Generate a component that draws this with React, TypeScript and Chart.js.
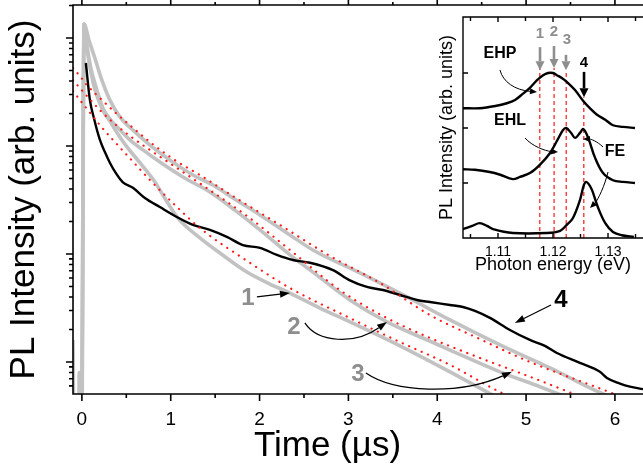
import { useEffect, useRef } from 'react';
import { Chart, registerables } from 'chart.js';

Chart.register(...registerables);

const FONT = '"Liberation Sans", Arial, Helvetica, sans-serif';
const GRAY_LINE = '#c2c2c2';
const GRAY_TEXT = '#8e8e8e';
const RED = '#ff1a1a';

// ---------------- main panel: PL decay (time in µs, intensity log) ----------------
const TIME_MIN = -0.1;
const TIME_MAX = 6.316;
const PL_MIN = 0.505;
const PL_MAX = 2022;
const TIME_TICKS = [0, 1, 2, 3, 4, 5, 6];
const TIME_MINOR = [0.5, 1.5, 2.5, 3.5, 4.5, 5.5];
const PL_MAJOR = [1, 10, 100, 1000];
const PL_MINOR = [0.6, 0.7, 0.8, 0.9, 2, 3, 4, 5, 6, 7, 8, 9, 20, 30, 40, 50, 60, 70, 80, 90, 200, 300, 400, 500, 600, 700, 800, 900, 2000];

// curve 4 (black)
const t4 = [0.045, 0.09, 0.135, 0.203, 0.259, 0.315, 0.383, 0.462, 0.574, 0.709, 0.878, 1.069, 1.25, 1.441, 1.632, 1.812, 2.004, 2.195, 2.375, 2.567, 2.826, 3.017, 3.208, 3.389, 3.58, 3.771, 3.918, 4.143, 4.289, 4.424, 4.593, 4.818, 5.043, 5.212, 5.347, 5.606, 5.831, 5.91, 6.057, 6.169, 6.316];
const pl4 = [587, 267, 182, 114, 88, 70, 56, 46, 41, 33, 27.2, 22, 18.6, 16.7, 14.4, 12.1, 11.4, 9.8, 8.8, 8.3, 7.1, 5.7, 4.95, 4.64, 4.17, 3.75, 3.59, 3.37, 3.23, 2.97, 2.56, 1.98, 1.6, 1.41, 1.21, 0.98, 0.81, 0.71, 0.63, 0.59, 0.56];

// curve 1 (gray, lowest)
const t1 = [-0.1, -0.09, -0.035, -0.03, -0.025, 0.0, 0.025, 0.056, 0.101, 0.158, 0.236, 0.315, 0.405, 0.507, 0.653, 0.822, 0.946, 1.081, 1.328, 1.554, 1.857, 2.116, 2.342, 2.679, 3.017, 3.58, 4.143, 4.593, 4.931];
const pl1 = [1.6, 0.3, 0.3, 0.8, 0.3, 0.3, 1346, 808, 484, 310, 215, 170, 129, 98, 70, 46.4, 31.6, 21.5, 14.1, 10.2, 6.8, 5.27, 4.35, 3.16, 2.35, 1.41, 0.81, 0.51, 0.37];

// curve 2 (gray, middle)
const t2 = [0.0, 0.025, 0.056, 0.101, 0.169, 0.236, 0.326, 0.428, 0.54, 0.687, 0.878, 1.137, 1.441, 1.722, 2.004, 2.342, 2.6, 3.017, 3.434, 3.918, 4.143, 4.706, 5.156, 5.494, 5.831];
const pl2 = [0.3, 1346, 861, 527, 330, 225, 174, 141, 114, 92, 71, 51.6, 37.5, 25.5, 16.7, 9.8, 6.8, 3.75, 2.35, 1.56, 1.29, 0.81, 0.59, 0.46, 0.36];

// curve 3 (gray, top)
const t3 = [0.0, 0.025, 0.079, 0.146, 0.225, 0.315, 0.428, 0.597, 0.766, 0.991, 1.25, 1.475, 1.7, 2.004, 2.342, 2.6, 3.13, 3.659, 4.143, 4.706, 5.268, 5.809, 6.169];
const pl3 = [0.3, 1346, 958, 653, 408, 267, 186, 135, 102, 74, 53.9, 43.5, 33, 23, 15, 10.9, 6.67, 4.0, 2.45, 1.44, 0.88, 0.53, 0.4];

// fits (red dotted)
const tFit1 = [-0.1, -0.023, 0.068, 0.203, 0.371, 0.54, 0.766, 1.081, 1.328, 1.891, 2.342, 3.017, 3.58, 4.143, 4.74, 5.043];
const plFit1 = [323, 267, 215, 156, 109, 77, 48.4, 26.7, 17.4, 8.3, 4.84, 2.55, 1.53, 0.94, 0.51, 0.4];
const tFit2 = [-0.1, -0.023, 0.068, 0.203, 0.371, 0.54, 0.766, 1.103, 1.441, 1.891, 2.342, 2.904, 3.434, 3.918, 4.48, 5.043, 5.527, 5.831];
const plFit2 = [408, 344, 284, 215, 160, 124, 92, 60, 39, 21.5, 10.9, 4.64, 2.55, 1.67, 1.09, 0.73, 0.51, 0.41];
const tFit3 = [-0.1, -0.023, 0.056, 0.203, 0.371, 0.54, 0.766, 1.047, 1.328, 1.7, 2.229, 2.792, 3.355, 3.918, 4.48, 5.043, 5.978, 6.316];
const plFit3 = [527, 445, 367, 278, 206, 156, 109, 74, 53.9, 34.4, 18.6, 9.6, 5.4, 2.72, 1.63, 1.0, 0.51, 0.39];

// labels and arrows of the main panel (time µs, intensity)
const MAIN_LABELS = [
  { text: '1', at: [1.869, 3.91], color: GRAY_TEXT },
  { text: '2', at: [2.387, 2.11], color: GRAY_TEXT },
  { text: '3', at: [3.107, 0.774], color: GRAY_TEXT },
  { text: '4', at: [5.392, 3.75], color: '#000' },
];
const MAIN_ARROWS = [
  [[1.97, 4.0], [2.342, 4.35]],
  [[2.51, 2.3], [2.657, 1.5], [3.073, 1.44], [3.434, 2.35]],
  [[3.197, 0.79], [3.524, 0.516], [4.255, 0.495], [4.841, 0.81]],
  [[5.28, 3.37], [4.874, 2.3]],
];

// ---------------- inset: PL spectra ----------------
const E_MIN = 1.10364;
const E_MAX = 1.13636;
const V_MIN = 0;
const V_MAX = 4.018;
const E_TICKS = [1.11, 1.12, 1.13];
const E_MINOR = [1.105, 1.115, 1.125, 1.135];
const V_TICKS = [1, 2, 3];

const eEHP = [1.1036, 1.1067, 1.1095, 1.1116, 1.1131, 1.1145, 1.1158, 1.1171, 1.1182, 1.1191, 1.12, 1.1207, 1.1216, 1.1225, 1.124, 1.1255, 1.1267, 1.128, 1.1295, 1.1309, 1.1327, 1.1349];
const vEHP = [2.36, 2.36, 2.4, 2.45, 2.51, 2.62, 2.73, 2.87, 2.96, 3.0, 3.0, 2.96, 2.91, 2.84, 2.69, 2.49, 2.36, 2.24, 2.15, 2.05, 2.02, 2.0];
const eEHL = [1.1036, 1.1058, 1.1085, 1.1104, 1.1127, 1.114, 1.1158, 1.1176, 1.1195, 1.1209, 1.1218, 1.1224, 1.1233, 1.124, 1.1249, 1.1255, 1.1264, 1.1276, 1.1291, 1.1309, 1.1327, 1.1349];
const vEHL = [1.25, 1.24, 1.2, 1.15, 1.07, 1.11, 1.18, 1.33, 1.55, 1.8, 1.96, 2.0, 1.91, 1.82, 1.91, 1.98, 1.82, 1.47, 1.18, 1.05, 1.02, 1.0];
const eFE = [1.1036, 1.1053, 1.1067, 1.108, 1.1091, 1.1127, 1.1189, 1.1213, 1.1225, 1.1236, 1.1249, 1.1256, 1.126, 1.1265, 1.1271, 1.1282, 1.1295, 1.1309, 1.1325, 1.1347];
const vFE = [0.16, 0.22, 0.27, 0.22, 0.16, 0.09, 0.09, 0.13, 0.24, 0.36, 0.69, 0.96, 1.02, 0.98, 0.87, 0.55, 0.27, 0.11, 0.05, 0.02];

const MARK_E = [1.1176, 1.1202, 1.1224, 1.1256];
const MARK_TOP = [3.09, 3.09, 3.02, 2.56];

const INSET_LABELS = [
  { text: 'EHP', at: [1.11036, 3.345], color: '#000', size: 16 },
  { text: 'EHL', at: [1.11218, 2.127], color: '#000', size: 16 },
  { text: 'FE', at: [1.13127, 1.564], color: '#000', size: 16 },
  { text: '1', at: [1.11764, 3.709], color: GRAY_TEXT, size: 15 },
  { text: '2', at: [1.12018, 3.745], color: GRAY_TEXT, size: 15 },
  { text: '3', at: [1.12255, 3.6], color: GRAY_TEXT, size: 15 },
  { text: '4', at: [1.12564, 3.18], color: '#000', size: 15 },
];
const INSET_MARK_ARROWS = [
  { pts: [[1.11764, 3.47], [1.11764, 3.05]], color: GRAY_TEXT },
  { pts: [[1.12018, 3.49], [1.12018, 3.09]], color: GRAY_TEXT },
  { pts: [[1.12236, 3.33], [1.12236, 3.05]], color: GRAY_TEXT },
  { pts: [[1.12564, 3.02], [1.12564, 2.56]], color: '#000' },
];
const INSET_CURVED_ARROWS = [
  [[1.11036, 3.055], [1.1109, 2.836], [1.1131, 2.69], [1.11709, 2.655]],
  [[1.11491, 1.818], [1.11618, 1.673], [1.11855, 1.582], [1.12091, 1.564]],
  [[1.12909, 1.655], [1.128, 1.764], [1.12673, 1.8], [1.12545, 1.8]],
  [[1.13, 1.2], [1.12945, 0.964], [1.12818, 0.691], [1.12673, 0.545]],
];

const pts = (xs: number[], ys: number[]) => xs.map((x, i) => ({ x, y: ys[i] }));

function drawArrow(ctx: CanvasRenderingContext2D, p: number[][], color: string, width: number, head: number, headW: number) {
  const n = p.length;
  const end = p[n - 1];
  const prev = p[n - 2];
  let dx = end[0] - prev[0];
  let dy = end[1] - prev[1];
  const d = Math.hypot(dx, dy) || 1;
  dx /= d; dy /= d;
  const bx = end[0] - dx * head;
  const by = end[1] - dy * head;
  ctx.strokeStyle = color;
  ctx.fillStyle = color;
  ctx.lineWidth = width;
  ctx.beginPath();
  ctx.moveTo(p[0][0], p[0][1]);
  if (n === 2) ctx.lineTo(bx, by);
  else ctx.bezierCurveTo(p[1][0], p[1][1], p[2][0], p[2][1], bx, by);
  ctx.stroke();
  ctx.beginPath();
  ctx.moveTo(end[0], end[1]);
  ctx.lineTo(bx - dy * headW, by + dx * headW);
  ctx.lineTo(bx + dy * headW, by - dx * headW);
  ctx.closePath();
  ctx.fill();
}

const annotPlugin = {
  id: 'annot',
  afterDatasetsDraw(chart: any, _a: any, o: any) {
    const ctx: CanvasRenderingContext2D = chart.ctx;
    const xs = chart.scales.x;
    const ys = chart.scales.y;
    const P = (q: number[]) => [xs.getPixelForValue(q[0]), ys.getPixelForValue(q[1])];
    ctx.save();
    for (const a of o.arrows || []) {
      drawArrow(ctx, a.pts.map(P), a.color, a.width, a.head, a.headW);
    }
    ctx.textAlign = 'center';
    ctx.textBaseline = 'middle';
    for (const l of o.labels || []) {
      const [x, y] = P(l.at);
      ctx.fillStyle = l.color;
      ctx.font = `bold ${l.size}px ${FONT}`;
      ctx.fillText(l.text, x, y);
    }
    ctx.restore();
  },
};

const framePlugin = {
  id: 'frame',
  afterDraw(chart: any, _a: any, o: any) {
    const ctx: CanvasRenderingContext2D = chart.ctx;
    const a = chart.chartArea;
    const xs = chart.scales.x;
    const ys = chart.scales.y;
    const dir = o.inward ? -1 : 1;
    ctx.save();
    ctx.strokeStyle = '#000';
    ctx.lineWidth = o.width;
    ctx.beginPath();
    const R = a.right + 5;
    ctx.moveTo(a.left - o.width / 2, a.top); ctx.lineTo(R, a.top);
    ctx.moveTo(a.left, a.top); ctx.lineTo(a.left, a.bottom);
    ctx.moveTo(a.left - o.width / 2, a.bottom); ctx.lineTo(R, a.bottom);
    const groups: [number[], number, number][] = [
      [o.xMajor, o.xLen[0], o.topLen[0]],
      [o.xMinor, o.xLen[1], o.topLen[1]],
    ];
    for (const [vals, len, tlen] of groups) {
      for (const v of vals) {
        const px = xs.getPixelForValue(v);
        ctx.moveTo(px, a.bottom); ctx.lineTo(px, a.bottom + dir * len);
        ctx.moveTo(px, a.top); ctx.lineTo(px, a.top - dir * tlen);
      }
    }
    const yGroups: [number[], number][] = [[o.yMajor, o.yLen[0]], [o.yMinor, o.yLen[1]]];
    for (const [vals, len] of yGroups) {
      for (const v of vals) {
        const py = ys.getPixelForValue(v);
        ctx.moveTo(a.left, py); ctx.lineTo(a.left - dir * len, py);
      }
    }
    ctx.stroke();
    if (o.title) {
      ctx.fillStyle = '#000';
      ctx.font = `${o.title.size}px ${FONT}`;
      ctx.textAlign = 'center';
      ctx.textBaseline = 'alphabetic';
      ctx.fillText(o.title.text, o.title.x, o.title.y);
    }
    ctx.restore();
  },
};

function mainConfig(): any {
  const line = (label: string, xs: number[], ys: number[], color: string, width: number, dotted = false) => ({
    label,
    data: pts(xs, ys),
    borderColor: color,
    borderWidth: width,
    borderDash: dotted ? [0.1, 6.8] : [],
    borderCapStyle: dotted ? 'round' : 'butt',
    borderJoinStyle: 'round',
    pointRadius: 0,
    cubicInterpolationMode: 'monotone',
    fill: false,
  });
  return {
    type: 'line',
    data: {
      datasets: [
        line('fit 1', tFit1, plFit1, RED, 2.2, true),
        line('fit 2', tFit2, plFit2, RED, 2.2, true),
        line('fit 3', tFit3, plFit3, RED, 2.2, true),
        line('4', t4, pl4, '#000', 2.4),
        line('1', t1, pl1, GRAY_LINE, 3.6),
        line('2', t2, pl2, GRAY_LINE, 3.6),
        line('3', t3, pl3, GRAY_LINE, 3.6),
      ],
    },
    options: {
      animation: false,
      responsive: false,
      events: [],
      layout: { padding: { left: 0, right: 0, top: 5, bottom: 0 } },
      plugins: {
        legend: { display: false },
        tooltip: { enabled: false },
        frame: {
          width: 1.6,
          inward: false,
          xMajor: TIME_TICKS, xMinor: TIME_MINOR, xLen: [7, 4], topLen: [5, 3],
          yMajor: PL_MAJOR, yMinor: PL_MINOR, yLen: [7, 4],
          title: { text: 'Time (µs)', size: 35, x: 327.5, y: 456 },
        },
        annot: {
          labels: MAIN_LABELS.map((l) => ({ ...l, size: 24 })),
          arrows: MAIN_ARROWS.map((p) => ({ pts: p, color: '#000', width: 1.2, head: 10, headW: 3.5 })),
        },
      },
      scales: {
        x: {
          type: 'linear',
          min: TIME_MIN,
          max: TIME_MAX,
          grid: { display: false, drawTicks: false },
          border: { display: false },
          ticks: { font: { size: 19, family: FONT, lineHeight: 1.2 }, color: '#000', padding: 14.5, maxRotation: 0, autoSkip: false },
          afterBuildTicks: (s: any) => { s.ticks = TIME_TICKS.map((v) => ({ value: v })); },
          afterFit: (s: any) => { s.height = 76; },
        },
        y: {
          type: 'logarithmic',
          min: PL_MIN,
          max: PL_MAX,
          grid: { display: false, drawTicks: false },
          border: { display: false },
          ticks: { display: false },
          title: {
            display: true,
            text: 'PL Intensity (arb. units)',
            color: '#000',
            font: { size: 35, family: FONT, lineHeight: 1 },
            padding: { top: 6.7, bottom: 0 },
          },
          afterFit: (s: any) => { s.width = 73; },
        },
      },
    },
    plugins: [framePlugin, annotPlugin],
  };
}

function insetConfig(): any {
  const spec = (label: string, xs: number[], ys: number[]) => ({
    label,
    data: pts(xs, ys),
    borderColor: '#000',
    borderWidth: 2.4,
    pointRadius: 0,
    tension: 0.35,
    fill: false,
  });
  const marks = MARK_E.map((e, i) => ({
    label: `mark ${i + 1}`,
    data: [{ x: e, y: 0 }, { x: e, y: MARK_TOP[i] }],
    borderColor: RED,
    borderWidth: 1.2,
    borderDash: [4, 3],
    pointRadius: 0,
    fill: false,
  }));
  return {
    type: 'line',
    data: {
      datasets: [spec('EHP', eEHP, vEHP), spec('EHL', eEHL, vEHL), spec('FE', eFE, vFE), ...marks],
    },
    options: {
      animation: false,
      responsive: false,
      events: [],
      layout: { padding: { left: 0, right: 0, top: 17, bottom: 0 } },
      plugins: {
        legend: { display: false },
        tooltip: { enabled: false },
        frame: {
          width: 1.4,
          inward: true,
          xMajor: E_TICKS, xMinor: E_MINOR, xLen: [5, 4], topLen: [5, 4],
          yMajor: V_TICKS, yMinor: [], yLen: [5, 3],
        },
        annot: {
          labels: INSET_LABELS,
          arrows: [
            ...INSET_MARK_ARROWS.map((a) => ({ pts: a.pts, color: a.color, width: 2.6, head: 9, headW: 4.5 })),
            ...INSET_CURVED_ARROWS.map((p) => ({ pts: p, color: '#000', width: 1, head: 7, headW: 3 })),
          ],
        },
      },
      scales: {
        x: {
          type: 'linear',
          min: E_MIN,
          max: E_MAX,
          grid: { display: false, drawTicks: false },
          border: { display: false },
          ticks: {
            font: { size: 14, family: FONT, lineHeight: 1.2 },
            color: '#000',
            padding: 5.3,
            maxRotation: 0,
            autoSkip: false,
            callback: (v: number) => v.toFixed(2),
          },
          afterBuildTicks: (s: any) => { s.ticks = E_TICKS.map((v) => ({ value: v })); },
          title: {
            display: true,
            text: 'Photon energy (eV)',
            color: '#000',
            font: { size: 18, family: FONT, lineHeight: 1 },
            padding: { top: 0, bottom: 10.6 },
          },
          afterFit: (s: any) => { s.height = 47; },
        },
        y: {
          type: 'linear',
          min: V_MIN,
          max: V_MAX,
          grid: { display: false, drawTicks: false },
          border: { display: false },
          ticks: { display: false },
          title: {
            display: true,
            text: 'PL Intensity (arb. units)',
            color: '#000',
            font: { size: 18, family: FONT, lineHeight: 1 },
            padding: { top: 8.4, bottom: 0 },
          },
          afterFit: (s: any) => { s.width = 33; },
        },
      },
    },
    plugins: [framePlugin, annotPlugin],
  };
}

export default function App() {
  const mainRef = useRef<HTMLCanvasElement>(null);
  const insetRef = useRef<HTMLCanvasElement>(null);
  useEffect(() => {
    const main = new Chart(mainRef.current as HTMLCanvasElement, mainConfig());
    const inset = new Chart(insetRef.current as HTMLCanvasElement, insetConfig());
    return () => {
      main.destroy();
      inset.destroy();
    };
  }, []);
  return (
    <div style={{ position: 'fixed', left: 0, top: 0, width: 643, height: 470, background: '#fff', overflow: 'hidden' }}>
      <canvas ref={mainRef} width={643} height={470} style={{ position: 'absolute', left: 0, top: 0 }} />
      <canvas ref={insetRef} width={213} height={285} style={{ position: 'absolute', left: 430, top: 0 }} />
    </div>
  );
}
